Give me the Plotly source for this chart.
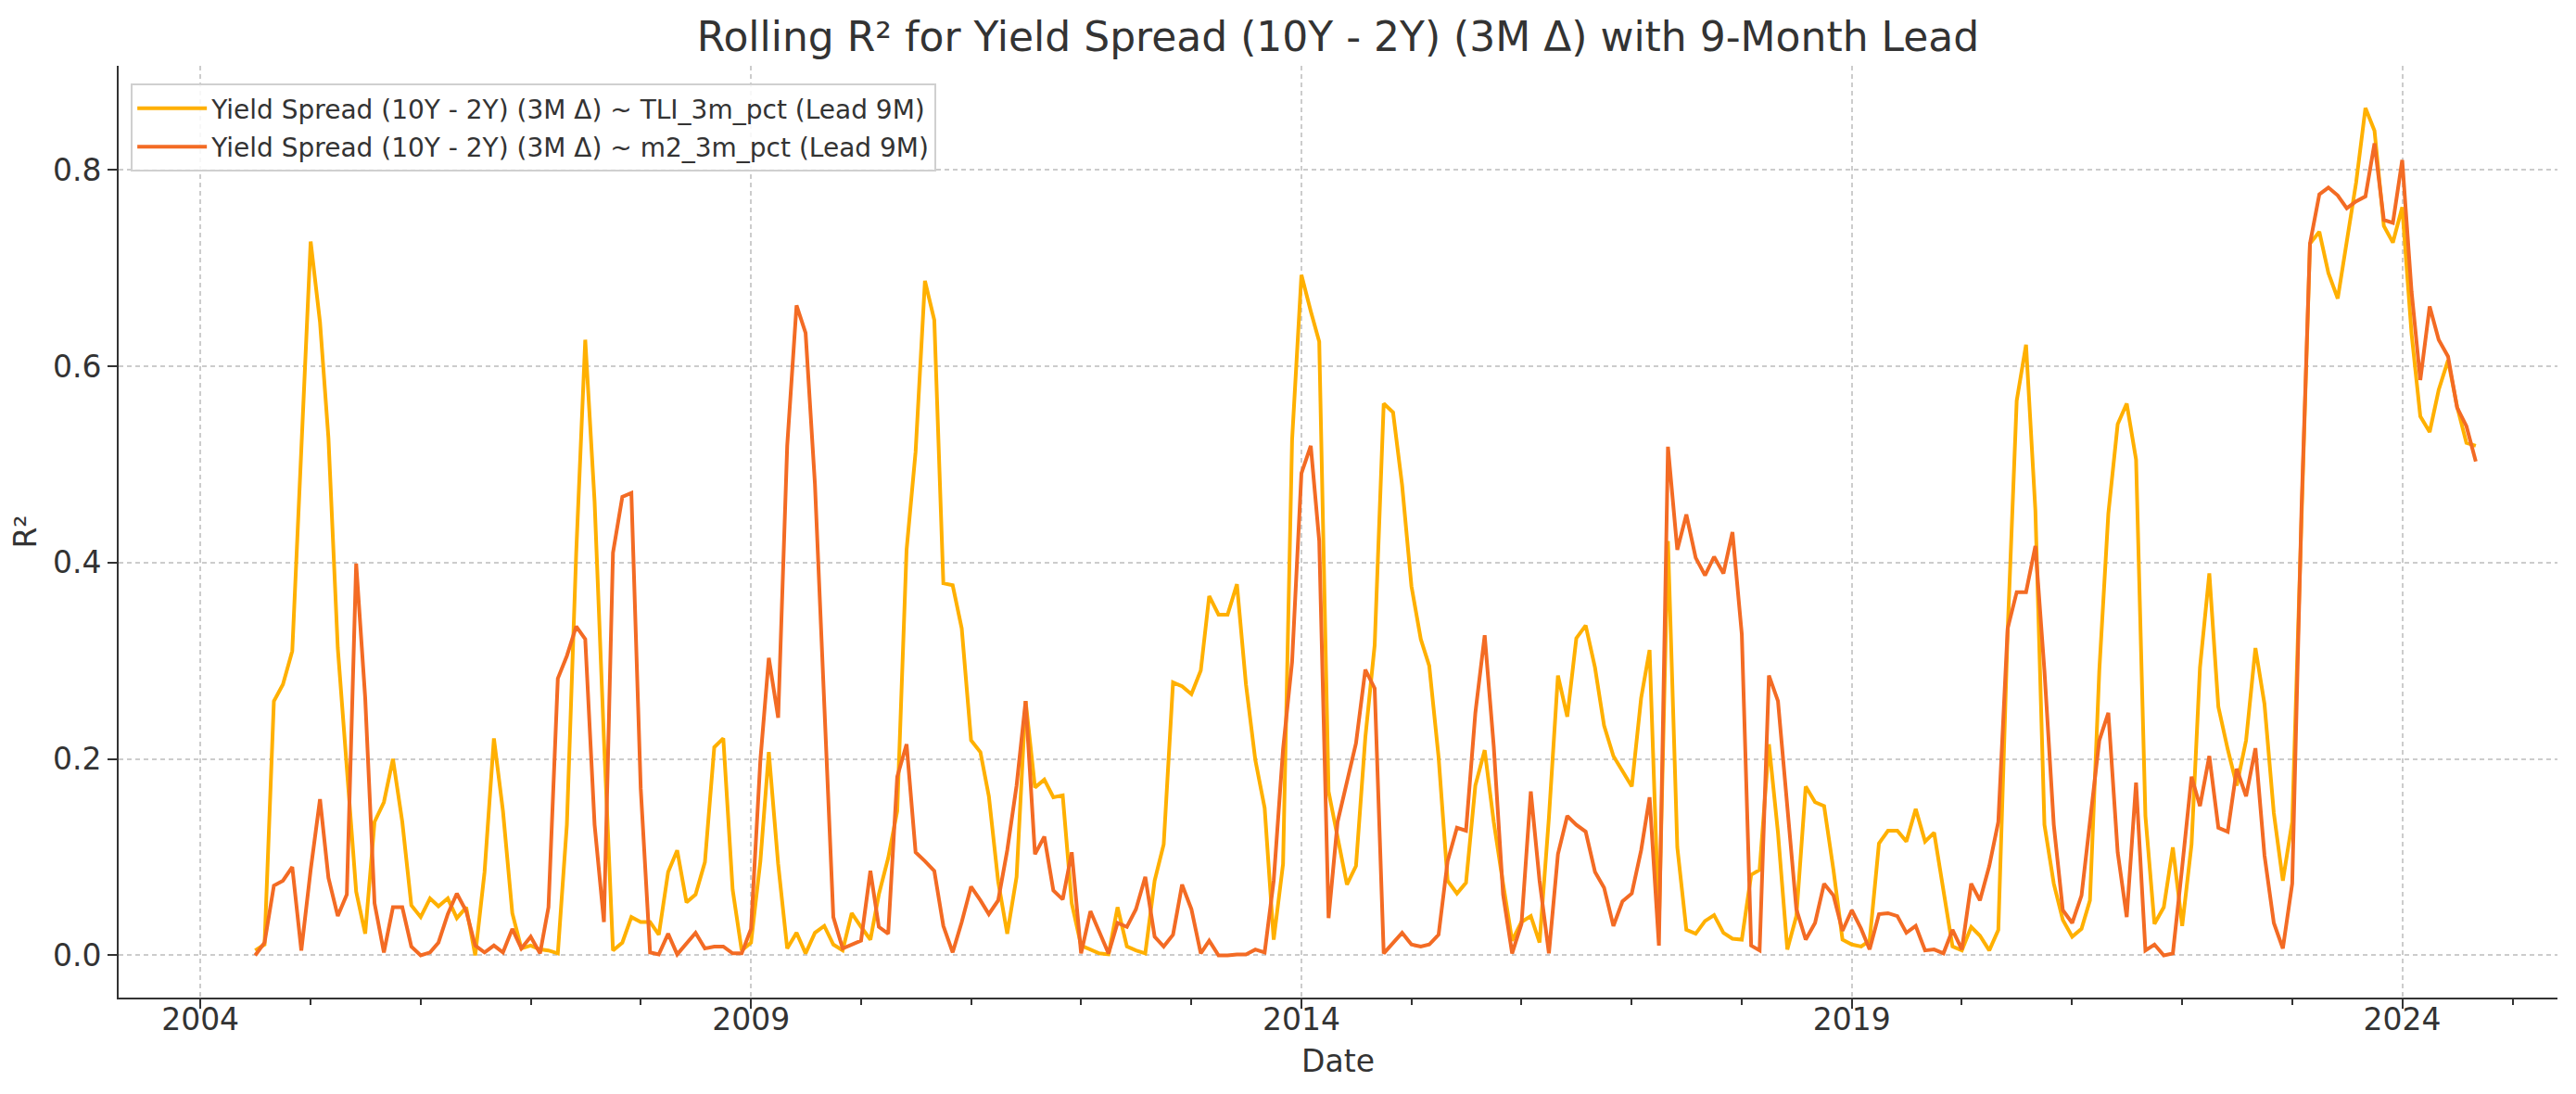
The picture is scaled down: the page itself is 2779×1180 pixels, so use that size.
import pandas as pd
import plotly.graph_objects as go

# Monthly observations, starting July 2004
start_month = "2004-07-01"

tli_r2 = [
    # 2004-07 .. 2007-11
    0.005, 0.011, 0.259, 0.276, 0.310, 0.52, 0.727, 0.645, 0.527, 0.313, 0.193, 0.065, 0.022, 0.136,
    0.156, 0.200, 0.136, 0.051, 0.039, 0.058, 0.050, 0.058, 0.038, 0.049, 0.0, 0.085, 0.221, 0.147,
    0.043, 0.007, 0.010, 0.006, 0.005, 0.002, 0.133, 0.41, 0.627, 0.462, 0.22, 0.005, 0.013,
    # 2007-12 .. 2011-03
    0.039, 0.034, 0.034, 0.021, 0.085, 0.107, 0.054, 0.062, 0.095, 0.212, 0.221, 0.067, 0.005, 0.013,
    0.096, 0.207, 0.093, 0.007, 0.023, 0.002, 0.023, 0.030, 0.011, 0.005, 0.043, 0.029, 0.016, 0.062,
    0.099, 0.147, 0.413, 0.513, 0.687, 0.647, 0.379, 0.377, 0.333, 0.219, 0.207, 0.162,
    # 2011-04 .. 2014-08
    0.075, 0.022, 0.080, 0.259, 0.171, 0.179, 0.161, 0.163, 0.053, 0.010, 0.006, 0.002, 0.001, 0.049,
    0.009, 0.005, 0.002, 0.076, 0.113, 0.278, 0.274, 0.266, 0.290, 0.366, 0.347, 0.347, 0.378, 0.276,
    0.199, 0.150, 0.016, 0.093, 0.525, 0.693, 0.656, 0.625, 0.167, 0.119, 0.072, 0.091, 0.222,
    # 2014-09 .. 2018-01
    0.316, 0.562, 0.553, 0.479, 0.376, 0.322, 0.295, 0.202, 0.076, 0.063, 0.074, 0.173, 0.209, 0.136,
    0.073, 0.015, 0.034, 0.040, 0.013, 0.14, 0.285, 0.243, 0.323, 0.336, 0.293, 0.234, 0.203, 0.187,
    0.172, 0.262, 0.311, 0.03, 0.422, 0.110, 0.026, 0.022, 0.035, 0.041, 0.023, 0.017, 0.016,
    # 2018-02 .. 2021-06
    0.082, 0.087, 0.215, 0.125, 0.006, 0.040, 0.172, 0.156, 0.152, 0.087, 0.016, 0.011, 0.009, 0.015,
    0.114, 0.127, 0.127, 0.116, 0.149, 0.116, 0.125, 0.067, 0.009, 0.005, 0.029, 0.020, 0.005, 0.026,
    0.33, 0.565, 0.622, 0.453, 0.133, 0.073, 0.036, 0.019, 0.027, 0.056, 0.290, 0.450, 0.541,
    # 2021-07 .. 2024-09
    0.562, 0.505, 0.142, 0.032, 0.049, 0.110, 0.030, 0.113, 0.293, 0.389, 0.253, 0.210, 0.173, 0.219,
    0.313, 0.256, 0.145, 0.076, 0.136, 0.45, 0.725, 0.737, 0.695, 0.669, 0.729, 0.787, 0.863, 0.840,
    0.743, 0.726, 0.762, 0.633, 0.549, 0.533, 0.576, 0.606, 0.559, 0.522, 0.519,
]

m2_r2 = [
    # 2004-07 .. 2007-11
    0.0, 0.013, 0.071, 0.076, 0.090, 0.005, 0.087, 0.159, 0.079, 0.040, 0.062, 0.399, 0.262, 0.053,
    0.003, 0.049, 0.049, 0.009, 0.0, 0.003, 0.013, 0.042, 0.063, 0.045, 0.010, 0.003, 0.010, 0.003,
    0.027, 0.007, 0.019, 0.002, 0.049, 0.282, 0.305, 0.335, 0.322, 0.133, 0.034, 0.410, 0.467,
    # 2007-12 .. 2011-03
    0.471, 0.170, 0.003, 0.001, 0.022, 0.001, 0.012, 0.023, 0.007, 0.009, 0.009, 0.002, 0.002, 0.027,
    0.199, 0.303, 0.242, 0.519, 0.662, 0.634, 0.48, 0.26, 0.039, 0.007, 0.011, 0.015, 0.086, 0.029,
    0.022, 0.182, 0.215, 0.105, 0.096, 0.086, 0.030, 0.003, 0.034, 0.070, 0.056, 0.042,
    # 2011-04 .. 2014-08
    0.056, 0.107, 0.173, 0.259, 0.103, 0.121, 0.066, 0.057, 0.105, 0.002, 0.045, 0.025, 0.002, 0.033,
    0.029, 0.047, 0.080, 0.019, 0.009, 0.021, 0.072, 0.047, 0.002, 0.015, 0.0, 0.0, 0.001, 0.001,
    0.006, 0.003, 0.076, 0.210, 0.299, 0.491, 0.519, 0.422, 0.038, 0.136, 0.176, 0.216, 0.291,
    # 2014-09 .. 2018-01
    0.272, 0.002, 0.012, 0.023, 0.011, 0.009, 0.011, 0.021, 0.096, 0.130, 0.127, 0.247, 0.326, 0.213,
    0.062, 0.002, 0.032, 0.167, 0.076, 0.002, 0.103, 0.142, 0.133, 0.126, 0.085, 0.069, 0.030, 0.055,
    0.063, 0.107, 0.161, 0.010, 0.518, 0.413, 0.449, 0.405, 0.387, 0.406, 0.389, 0.431, 0.327,
    # 2018-02 .. 2021-06
    0.010, 0.005, 0.285, 0.259, 0.147, 0.047, 0.016, 0.033, 0.073, 0.061, 0.025, 0.046, 0.027, 0.006,
    0.042, 0.043, 0.040, 0.023, 0.030, 0.005, 0.006, 0.002, 0.026, 0.006, 0.073, 0.056, 0.091, 0.136,
    0.333, 0.370, 0.370, 0.417, 0.290, 0.133, 0.046, 0.033, 0.061, 0.136, 0.219, 0.247, 0.105,
    # 2021-07 .. 2024-09
    0.039, 0.176, 0.005, 0.011, 0.0, 0.002, 0.09, 0.182, 0.152, 0.203, 0.130, 0.126, 0.190, 0.162,
    0.211, 0.102, 0.033, 0.007, 0.073, 0.456, 0.725, 0.775, 0.782, 0.774, 0.761, 0.768, 0.773, 0.827,
    0.749, 0.746, 0.810, 0.676, 0.586, 0.661, 0.627, 0.610, 0.558, 0.539, 0.503,
]

dates = pd.date_range(start_month, periods=len(tli_r2), freq="MS")

series_names = [
    "Yield Spread (10Y - 2Y) (3M Δ) ~ TLI_3m_pct (Lead 9M)",
    "Yield Spread (10Y - 2Y) (3M Δ) ~ m2_3m_pct (Lead 9M)",
]
series_colors = ["#FFB000", "#F36B24"]

x_tick_vals = ["2004-01-01", "2009-01-01", "2014-01-01", "2019-01-01", "2024-01-01"]
x_tick_text = ["2004", "2009", "2014", "2019", "2024"]
y_tick_vals = [0.0, 0.2, 0.4, 0.6, 0.8]

font_family = "DejaVu Sans, Liberation Sans, sans-serif"
text_color = "#333333"

# page body has an 8px margin; figure is sized to fit the window exactly
FIG_W, FIG_H = 2771, 1172

fig = go.Figure()
for name, vals, col, grp in zip(series_names, [tli_r2, m2_r2], series_colors, ["a", "b"]):
    fig.add_trace(go.Scatter(
        x=dates, y=vals, mode="lines", name=name, legendgroup=grp,
        line=dict(color=col, width=4),
    ))

fig.update_layout(
    width=FIG_W, height=FIG_H,
    margin=dict(l=120, r=20, t=63, b=104),
    paper_bgcolor="white", plot_bgcolor="white",
    font=dict(family=font_family, color=text_color, size=33),
    title=dict(
        text="Rolling R² for Yield Spread (10Y - 2Y) (3M Δ) with 9-Month Lead",
        x=0.5, xref="paper", xanchor="center",
        y=1 - 32 / FIG_H, yref="container", yanchor="middle",
        font=dict(size=44, family=font_family, color=text_color),
    ),
    showlegend=True,
    legend=dict(
        x=0.005, y=0.981, xanchor="left", yanchor="top",
        bgcolor="rgba(255,255,255,0.85)", bordercolor="#d0d0d0", borderwidth=2,
        font=dict(size=28, family=font_family, color=text_color),
        traceorder="grouped", tracegroupgap=2, itemwidth=75,
    ),
)

fig.update_xaxes(
    range=["2003-04-05", "2025-05-30"],
    tickvals=x_tick_vals, ticktext=x_tick_text,
    showline=True, linecolor="#333333", linewidth=2, mirror=False,
    ticks="outside", ticklen=10, tickwidth=2, tickcolor="#333333",
    tickfont=dict(size=33, color=text_color), ticklabelstandoff=-17,
    showgrid=True, gridcolor="#cccccc", gridwidth=2, griddash="5px,4px",
    zeroline=False,
    minor=dict(dtick="M12", tick0="2004-01-01", ticks="outside", ticklen=6, tickwidth=1.5,
               tickcolor="#333333", showgrid=False),
    title=dict(text="Date", font=dict(size=33, color=text_color), standoff=15),
)
fig.update_yaxes(
    range=[-0.043, 0.906],
    tickvals=y_tick_vals, tickformat=".1f",
    showline=True, linecolor="#333333", linewidth=2, mirror=False,
    ticks="outside", ticklen=10, tickwidth=2, tickcolor="#333333",
    tickfont=dict(size=33, color=text_color),
    showgrid=True, gridcolor="#cccccc", gridwidth=2, griddash="5px,4px",
    zeroline=False,
    title=dict(text="R²", font=dict(size=33, color=text_color), standoff=8),
)

fig.write_html("out.html")
